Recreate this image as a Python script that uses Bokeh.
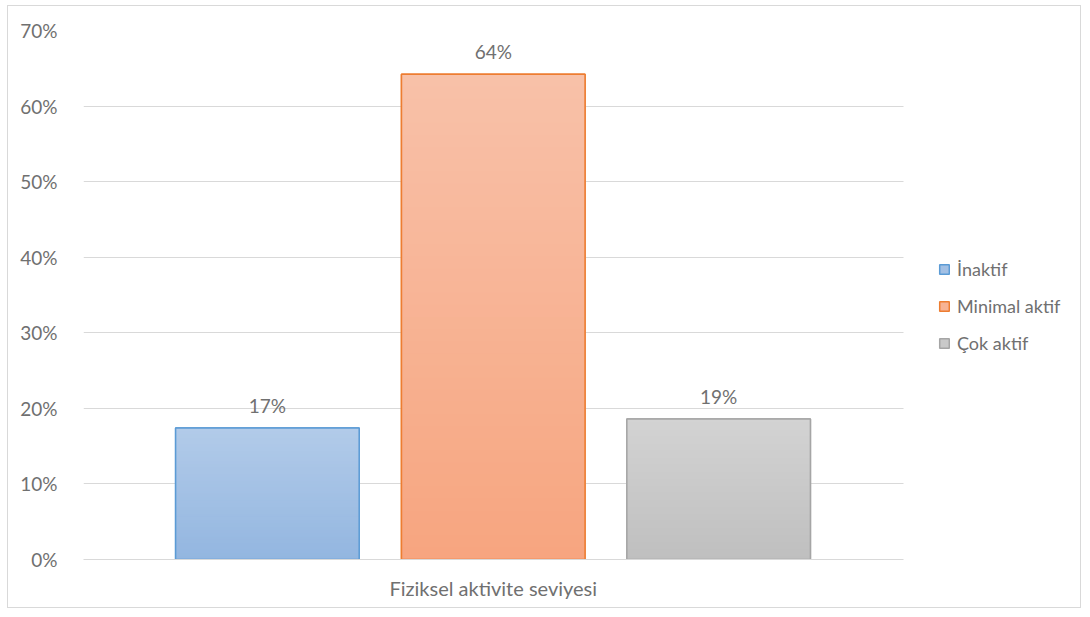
from bokeh.plotting import figure
from bokeh.models import Range1d, Legend, LegendItem, ColumnDataSource, PrintfTickFormatter, FixedTicker
from bokeh.core.properties import value
from bokeh.embed import file_html
from bokeh.resources import INLINE

categories = ["Fiziksel aktivite seviyesi"]
series = ["İnaktif", "Minimal aktif", "Çok aktif"]
values = [17.4, 64.2, 18.6]
y_ticks = [0, 10, 20, 30, 40, 50, 60, 70]

cat_pos = 0.5
offsets = [-0.2756, 0.0, 0.275]
bar_w = 0.224
top_colors = ["#b2cbe9", "#f8c1a9", "#d3d3d3"]
bot_colors = ["#93b6e0", "#f7a57f", "#bfbfbf"]
line_colors = ["#5b9bd5", "#ed7d31", "#a5a5a5"]
mid_colors = ["#a3c0e4", "#f7b394", "#c9c9c9"]

FONT = "Lato"
TXT = "#707070"

p = figure(x_range=Range1d(0, 1.219), y_range=Range1d(0, 70),
           width=1074, height=603, output_backend="svg", toolbar_location=None,
           min_border_left=75, min_border_right=0, min_border_top=24, min_border_bottom=50)
p.styles = {"margin-left": "7px", "margin-top": "5px", "border": "1px solid #d9d9d9"}
p.outline_line_color = None
p.xgrid.grid_line_color = None
p.ygrid.grid_line_color = "#d9d9d9"
p.ygrid.grid_line_width = 1
p.ygrid.cross_bounds = (0, 1)
p.yaxis.ticker = FixedTicker(ticks=y_ticks)
p.yaxis.formatter = PrintfTickFormatter(format="%d%%")
p.yaxis.axis_line_color = None
p.yaxis.major_tick_line_color = None
p.yaxis.minor_tick_line_color = None
p.yaxis.major_label_standoff = 20
p.yaxis.major_label_text_font = FONT
p.yaxis.major_label_text_font_size = "19px"
p.yaxis.major_label_text_color = TXT
p.xaxis.bounds = (0, 1)
p.xaxis.ticker = FixedTicker(ticks=[cat_pos], minor_ticks=[])
p.xaxis.major_label_overrides = {cat_pos: categories[0]}
p.xaxis.axis_line_color = "#d9d9d9"
p.xaxis.major_tick_line_color = None
p.xaxis.minor_tick_line_color = None
p.xaxis.major_label_standoff = 10
p.xaxis.major_label_text_font = FONT
p.xaxis.major_label_text_font_size = "20px"
p.xaxis.major_label_text_color = TXT


def hex2rgb(h):
    h = h.lstrip("#")
    return [int(h[i:i + 2], 16) for i in (0, 2, 4)]


def mix(a, b, t):
    ra, rb = hex2rgb(a), hex2rgb(b)
    return "#%02x%02x%02x" % tuple(int(round(ra[k] + (rb[k] - ra[k]) * t)) for k in range(3))


N = 40
legend_items = []
for i, s in enumerate(series):
    v = values[i]
    xc = cat_pos + offsets[i]
    osrc = ColumnDataSource(dict(x=[xc], top=[v], lab=[f"{round(v)}%"]))
    base = p.vbar(x="x", top="top", width=bar_w, source=osrc,
                  fill_color=mid_colors[i], line_color=line_colors[i], line_width=1.5)
    legend_items.append(LegendItem(label=s, renderers=[base]))
    # nested strips from the full bar down to the shortest, drawn tall-to-short (no seams)
    tops = [v * (N - k) / N for k in range(N)]
    cols = [mix(bot_colors[i], top_colors[i], (N - k - 0.5) / N) for k in range(N)]
    src = ColumnDataSource(dict(x=[xc] * N, top=tops, c=cols))
    p.vbar(x="x", bottom=0, top="top", width=bar_w, source=src, fill_color="c", line_color=None)
    p.vbar(x="x", top="top", width=bar_w, source=osrc,
           fill_alpha=0, line_color=line_colors[i], line_width=1.5)
    p.text(x="x", y="top", text="lab", source=osrc,
           text_align="center", text_baseline="bottom", y_offset=-11,
           text_font=value(FONT), text_font_size="19px", text_color=TXT)

legend = Legend(items=legend_items, location=(855, 205), glyph_width=12, glyph_height=12,
                label_text_font=FONT, label_text_font_size="18px", label_text_color=TXT,
                spacing=15, padding=0, margin=0, border_line_color=None,
                background_fill_alpha=0, label_standoff=7)
p.add_layout(legend, "center")

open("out.html", "w").write(file_html(p, INLINE))
